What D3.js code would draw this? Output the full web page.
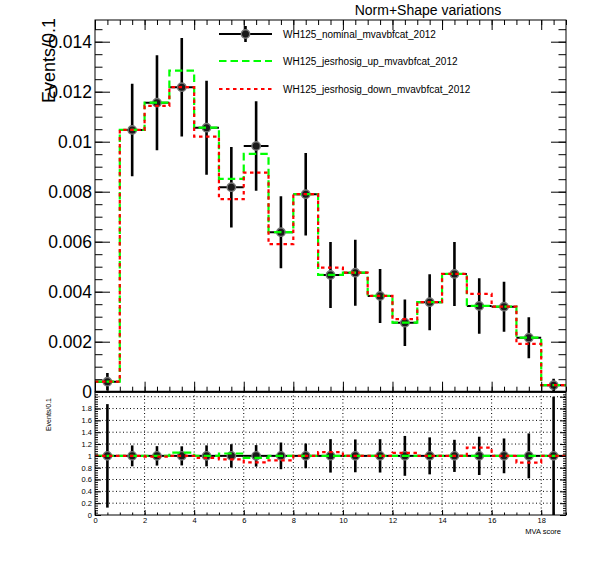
<!DOCTYPE html>
<html><head><meta charset="utf-8">
<script src="https://cdn.jsdelivr.net/npm/d3@7"></script>
<style>
body{margin:0;background:#fff}
svg text{font-family:"Liberation Sans",Arial,Helvetica,sans-serif;fill:#000}
</style>
</head><body>
<svg id="c" width="596" height="572"></svg>
<script>
// ---- data ----
const binCenters = [0.5,1.5,2.5,3.5,4.5,5.5,6.5,7.5,8.5,9.5,10.5,11.5,12.5,13.5,14.5,15.5,16.5,17.5,18.5];
const nominal    = [0.0004,0.01047,0.01156,0.01218,0.01056,0.00818,0.00983,0.00638,0.0079,0.00467,0.00476,0.00383,0.00276,0.00358,0.00471,0.00343,0.0034,0.00216,0.00026];
const nominalErr = [0.00035,0.00185,0.0019,0.00197,0.00188,0.00161,0.00179,0.00144,0.00165,0.00132,0.00132,0.00108,0.00093,0.00112,0.00128,0.00111,0.001,0.00082,0.00026];
const upVals     = [0.0004,0.01047,0.01156,0.01284,0.01056,0.00851,0.00951,0.00638,0.0079,0.00467,0.00476,0.00383,0.00276,0.00358,0.00471,0.00343,0.0034,0.00216,0.00026];
const downVals   = [0.0004,0.01047,0.01143,0.01218,0.0102,0.0077,0.00876,0.0059,0.0079,0.00496,0.00476,0.00383,0.0029,0.00358,0.00471,0.00391,0.0034,0.00191,0.00026];
const legendLabels = ["WH125_nominal_mvavbfcat_2012","WH125_jesrhosig_up_mvavbfcat_2012","WH125_jesrhosig_down_mvavbfcat_2012"];
const yTopTicks = [0,0.002,0.004,0.006,0.008,0.01,0.012,0.014];
const yRatioTicks = [0,0.2,0.4,0.6,0.8,1,1.2,1.4,1.6,1.8];
const xRatioTicks = [0,2,4,6,8,10,12,14,16,18];
const titleText = "Norm+Shape variations";
const xTitle = "MVA score";
const yTitle = "Events/0.1";
const binWidth = 1;

// ---- layout ----
const svg = d3.select("#c");
const L = 95, R = 566, T1 = 20, B1 = 391.7, T2 = 392, B2 = 515;
const x = d3.scaleLinear([0,19],[L,R]);
const yT = d3.scaleLinear([0,0.014868],[B1,T1]);
const yR = d3.scaleLinear([0,2.08],[B2,T2]);
const GREEN = "#00ff00", RED = "#ff0000";

const ratioUp = upVals.map((v,i)=>v/nominal[i]);
const ratioDown = downVals.map((v,i)=>v/nominal[i]);
const ratioNom = nominal.map(()=>1);
const ratioErr = nominalErr.map((e,i)=>e/nominal[i]);

function stepPath(vals, ys){
  let p = "";
  vals.forEach((v,i)=>{
    const x0 = x(binCenters[i]-binWidth/2), x1 = x(binCenters[i]+binWidth/2);
    p += (i===0 ? `M${x0},${ys(v)}` : `L${x0},${ys(v)}`) + `L${x1},${ys(v)}`;
  });
  return p;
}

function drawPoints(g, vals, errs, ys, clipId){
  const gg = g.append("g").attr("clip-path",`url(#${clipId})`);
  vals.forEach((v,i)=>{
    const cx = x(binCenters[i]);
    gg.append("line").attr("x1",x(binCenters[i]-binWidth/2)).attr("x2",x(binCenters[i]+binWidth/2))
      .attr("y1",ys(v)).attr("y2",ys(v)).attr("stroke","#000").attr("stroke-width",2);
    gg.append("line").attr("x1",cx).attr("x2",cx).attr("y1",ys(v-errs[i])).attr("y2",ys(v+errs[i]))
      .attr("stroke","#000").attr("stroke-width",2.6);
    gg.append("circle").attr("cx",cx).attr("cy",ys(v)).attr("r",4.2)
      .attr("fill","#1a1a1a").attr("stroke","#777").attr("stroke-width",1.4);
  });
}
function drawHist(g, vals, ys, color, dash, clipId){
  g.append("path").attr("clip-path",`url(#${clipId})`).attr("d",stepPath(vals,ys))
    .attr("fill","none").attr("stroke",color).attr("stroke-width",2.2).attr("stroke-dasharray",dash);
}

const defs = svg.append("defs");
defs.append("clipPath").attr("id","clipTop").append("rect").attr("x",L).attr("y",T1).attr("width",R-L).attr("height",B1-T1);
defs.append("clipPath").attr("id","clipRat").append("rect").attr("x",L).attr("y",T2).attr("width",R-L).attr("height",B2-T2);

// ---- top panel ----
const topG = svg.append("g");
drawPoints(topG, nominal, nominalErr, yT, "clipTop");
drawHist(topG, upVals, yT, GREEN, "7.5,4", "clipTop");
drawHist(topG, downVals, yT, RED, "3.5,3.5", "clipTop");

// frame
topG.append("rect").attr("x",L).attr("y",T1).attr("width",R-L).attr("height",B1-T1)
  .attr("fill","none").attr("stroke","#000").attr("stroke-width",1);
topG.append("line").attr("x1",L).attr("x2",R).attr("y1",B1).attr("y2",B1).attr("stroke","#000").attr("stroke-width",2);

const yMinorTop = d3.range(0,0.01487,0.0005);
const xMinorTop = d3.range(0,19.01,0.5);
const xMajorTop = d3.range(0,19,2);
// left y axis
const yAxL = d3.axisLeft(yT).tickValues(yTopTicks).tickSizeInner(-15).tickSizeOuter(0).tickPadding(3)
  .tickFormat(d=>d===0?"0":String(+d.toFixed(3)));
const gyl = topG.append("g").attr("transform",`translate(${L},0)`).call(yAxL);
gyl.select(".domain").remove();
gyl.selectAll("text").attr("font-size",17.5).attr("font-family","Liberation Sans, Arial, sans-serif");
gyl.selectAll("line").attr("stroke","#000");
const gylm = topG.append("g").attr("transform",`translate(${L},0)`).call(d3.axisLeft(yT).tickValues(yMinorTop).tickSizeInner(-7.5).tickSizeOuter(0).tickFormat(""));
gylm.select(".domain").remove();
// right y axis
const gyr = topG.append("g").attr("transform",`translate(${R},0)`).call(d3.axisRight(yT).tickValues(yTopTicks).tickSizeInner(-15).tickSizeOuter(0).tickFormat(""));
gyr.select(".domain").remove();
const gyrm = topG.append("g").attr("transform",`translate(${R},0)`).call(d3.axisRight(yT).tickValues(yMinorTop).tickSizeInner(-7.5).tickSizeOuter(0).tickFormat(""));
gyrm.select(".domain").remove();
// bottom & top x ticks
[[B1,d3.axisBottom],[T1,d3.axisTop]].forEach(([yy,fn])=>{
  const a = topG.append("g").attr("transform",`translate(0,${yy})`).call(fn(x).tickValues(xMajorTop).tickSizeInner(-10).tickSizeOuter(0).tickFormat(""));
  a.select(".domain").remove();
  const b = topG.append("g").attr("transform",`translate(0,${yy})`).call(fn(x).tickValues(xMinorTop).tickSizeInner(-5).tickSizeOuter(0).tickFormat(""));
  b.select(".domain").remove();
});

// y title
topG.append("text").attr("transform",`translate(55,18) rotate(-90)`).attr("text-anchor","end")
  .attr("font-size",18).text(yTitle);
// title
svg.append("text").attr("x",428).attr("y",15).attr("text-anchor","middle").attr("font-size",14).text(titleText);

// legend
const lg = svg.append("g");
const legY = [34,61,89];
const lx0 = 219, lx1 = 272;
lg.append("line").attr("x1",lx0).attr("x2",lx1).attr("y1",legY[0]).attr("y2",legY[0]).attr("stroke","#000").attr("stroke-width",2);
lg.append("line").attr("x1",(lx0+lx1)/2).attr("x2",(lx0+lx1)/2).attr("y1",legY[0]-8).attr("y2",legY[0]+8).attr("stroke","#000").attr("stroke-width",2.6);
lg.append("circle").attr("cx",(lx0+lx1)/2).attr("cy",legY[0]).attr("r",4.2).attr("fill","#1a1a1a").attr("stroke","#777").attr("stroke-width",1.4);
lg.append("line").attr("x1",lx0).attr("x2",lx1).attr("y1",legY[1]).attr("y2",legY[1]).attr("stroke",GREEN).attr("stroke-width",2.2).attr("stroke-dasharray","7.5,4");
lg.append("line").attr("x1",lx0).attr("x2",lx1).attr("y1",legY[2]).attr("y2",legY[2]).attr("stroke",RED).attr("stroke-width",2.2).attr("stroke-dasharray","3.5,3.5");
legendLabels.forEach((t,i)=>{
  lg.append("text").attr("x",283).attr("y",legY[i]+3.6).attr("font-size",10).text(t);
});

// ---- ratio panel ----
const rat = svg.append("g");
// grid
rat.append("g").selectAll("line").data(yRatioTicks.filter(d=>d>0).concat([2])).join("line")
  .attr("x1",L).attr("x2",R).attr("y1",d=>yR(d)).attr("y2",d=>yR(d))
  .attr("stroke","#000").attr("stroke-width",1).attr("stroke-dasharray","1,2.5");
rat.append("g").selectAll("line").data(xRatioTicks.filter(d=>d>0)).join("line")
  .attr("x1",d=>x(d)).attr("x2",d=>x(d)).attr("y1",T2).attr("y2",B2)
  .attr("stroke","#000").attr("stroke-width",1).attr("stroke-dasharray","1,2.5");

drawPoints(rat, ratioNom, ratioErr, yR, "clipRat");
drawHist(rat, ratioUp, yR, GREEN, "7.5,4", "clipRat");
drawHist(rat, ratioDown, yR, RED, "3.5,3.5", "clipRat");

rat.append("rect").attr("x",L).attr("y",T2).attr("width",R-L).attr("height",B2-T2)
  .attr("fill","none").attr("stroke","#000").attr("stroke-width",1);

const yMinorR = d3.range(0,2.08,0.04);
const gRl = rat.append("g").attr("transform",`translate(${L},0)`).call(d3.axisLeft(yR).tickValues(yRatioTicks).tickSizeInner(-6).tickSizeOuter(0).tickPadding(3).tickFormat(d3.format("~g")));
gRl.select(".domain").remove();
gRl.selectAll("text").attr("font-size",7.5).attr("font-family","Liberation Sans, Arial, sans-serif");
const gRlm = rat.append("g").attr("transform",`translate(${L},0)`).call(d3.axisLeft(yR).tickValues(yMinorR).tickSizeInner(-3).tickSizeOuter(0).tickFormat(""));
gRlm.select(".domain").remove();
const gRr = rat.append("g").attr("transform",`translate(${R},0)`).call(d3.axisRight(yR).tickValues(yRatioTicks.concat([2])).tickSizeInner(-6).tickSizeOuter(0).tickFormat(""));
gRr.select(".domain").remove();
const gRrm = rat.append("g").attr("transform",`translate(${R},0)`).call(d3.axisRight(yR).tickValues(yMinorR).tickSizeInner(-3).tickSizeOuter(0).tickFormat(""));
gRrm.select(".domain").remove();
const gRb = rat.append("g").attr("transform",`translate(0,${B2})`).call(d3.axisBottom(x).tickValues(xRatioTicks).tickSizeInner(-5).tickSizeOuter(0).tickPadding(3).tickFormat(d3.format("d")));
gRb.select(".domain").remove();
gRb.selectAll("text").attr("font-size",7.5).attr("font-family","Liberation Sans, Arial, sans-serif");
const gRbm = rat.append("g").attr("transform",`translate(0,${B2})`).call(d3.axisBottom(x).tickValues(d3.range(0,19.01,0.5)).tickSizeInner(-2.5).tickSizeOuter(0).tickFormat(""));
gRbm.select(".domain").remove();

rat.append("text").attr("x",561).attr("y",534).attr("text-anchor","end").attr("font-size",7.5).text(xTitle);
rat.append("text").attr("transform",`translate(51,398) rotate(-90)`).attr("text-anchor","end").attr("font-size",7).text(yTitle);
</script>
</body></html>
